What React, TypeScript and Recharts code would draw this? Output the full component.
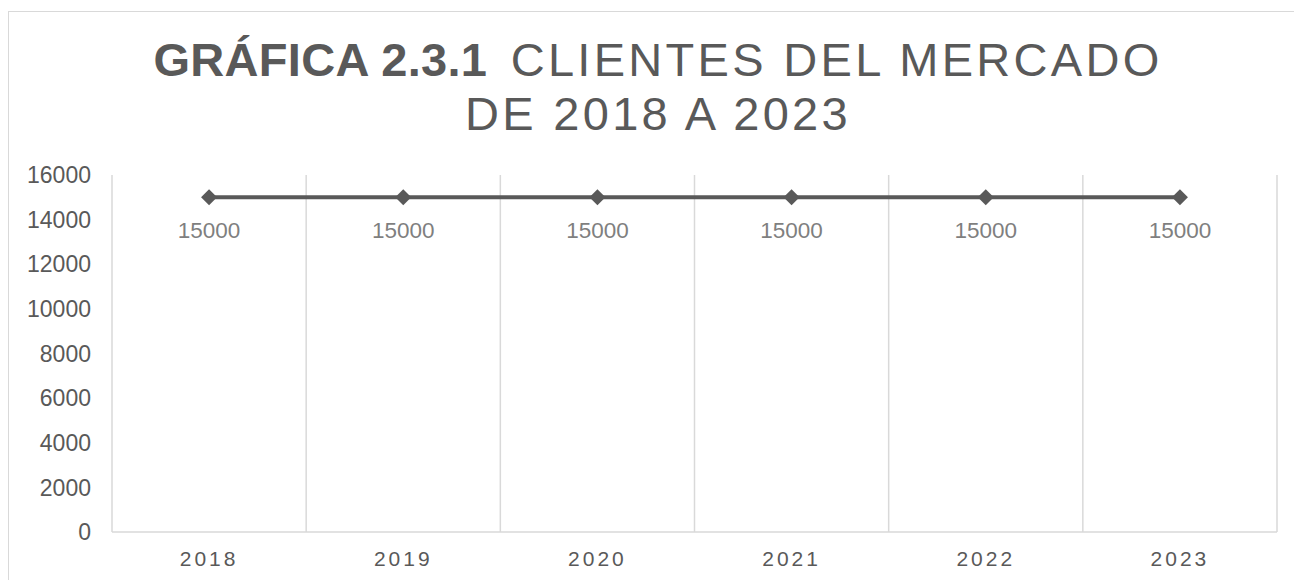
import { LineChart, Line, XAxis, YAxis, ReferenceLine, LabelList } from "recharts";

const YEARS = ["2018", "2019", "2020", "2021", "2022", "2023"];
const CLIENTS = [15000, 15000, 15000, 15000, 15000, 15000];
const Y_TICKS = [0, 2000, 4000, 6000, 8000, 10000, 12000, 14000, 16000];

// each year sits in the middle of its own slot, slot edges get a grid line
const data = YEARS.map((year, i) => ({ pos: i + 0.5, year, clients: CLIENTS[i] }));
const X_TICKS = data.map((d) => d.pos);
const SLOT_EDGES = YEARS.map((_, i) => i).concat(YEARS.length);

const FONT = '"Liberation Sans", Arial, sans-serif';
const GRID = "#d9d9d9";
const INK = "#595959";

function Diamond(props: { cx?: number; cy?: number; index?: number }) {
  const { cx, cy, index } = props;
  if (cx == null || cy == null) return null;
  const r = 8;
  return (
    <polygon
      key={`d-${index}`}
      points={`${cx - r},${cy} ${cx},${cy - r} ${cx + r},${cy} ${cx},${cy + r}`}
      fill={INK}
    />
  );
}

export default function App() {
  return (
    <div
      style={{
        position: "absolute",
        left: 0,
        top: 0,
        width: 1294,
        height: 580,
        overflow: "hidden",
        background: "#fff",
        fontFamily: FONT,
      }}
    >
      <div
        style={{
          position: "absolute",
          left: 8,
          top: 11,
          width: 1400,
          height: 700,
          border: `1.5px solid ${GRID}`,
        }}
      />
      <div
        style={{
          position: "absolute",
          left: 8,
          top: 33,
          width: 1300,
          textAlign: "center",
          color: INK,
          fontSize: 47,
          lineHeight: "54px",
          letterSpacing: 3.3,
        }}
      >
        <div>
          <span style={{ fontWeight: "bold", letterSpacing: 0.3 }}>GRÁFICA 2.3.1</span>{" "}
          <span style={{ marginLeft: 7 }}>CLIENTES DEL MERCADO</span>
        </div>
        <div>DE 2018 A 2023</div>
      </div>
      <div style={{ position: "absolute", left: 0, top: 0 }}>
        <LineChart
          width={1294}
          height={580}
          data={data}
          margin={{ top: 175, right: 17, bottom: 18, left: 0 }}
        >
          <XAxis
            dataKey="pos"
            type="number"
            domain={[0, YEARS.length]}
            ticks={X_TICKS}
            tickFormatter={(v: number) => YEARS[Math.floor(v)]}
            height={30}
            tickLine={false}
            tickSize={6}
            tickMargin={13}
            axisLine={{ stroke: GRID, strokeWidth: 1.5 }}
            tick={{ fill: INK, fontSize: 21, fontFamily: FONT, letterSpacing: 3 }}
          />
          <YAxis
            domain={[0, 16000]}
            ticks={Y_TICKS}
            width={112}
            tickLine={false}
            axisLine={false}
            tickSize={6}
            tickMargin={15}
            tick={{ fill: INK, fontSize: 23, fontFamily: FONT }}
          />
          {SLOT_EDGES.map((edge) => (
            <ReferenceLine key={edge} x={edge} stroke={GRID} strokeWidth={1.5} />
          ))}
          <Line
            dataKey="clients"
            stroke={INK}
            strokeWidth={4}
            dot={Diamond}
            activeDot={false}
            isAnimationActive={false}
          >
            <LabelList
              dataKey="clients"
              position="bottom"
              offset={25}
              fill="#7f7f7f"
              fontSize={22.5}
              fontFamily={FONT}
            />
          </Line>
        </LineChart>
      </div>
    </div>
  );
}
